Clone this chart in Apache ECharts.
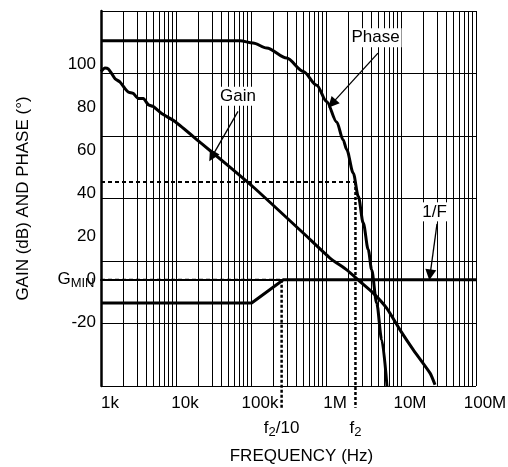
<!DOCTYPE html>
<html>
<head>
<meta charset="utf-8">
<script src="https://cdn.jsdelivr.net/npm/echarts@6/dist/echarts.min.js"></script>
<style>html,body{margin:0;padding:0;background:#fff;}</style>
</head>
<body>
<div id="main" style="width: 508px;height: 467px"></div>
<script type="text/javascript">
    // axis ticks
    var freqTicks = [1e3, 1e4, 1e5, 1e6, 1e7, 1e8];
    var freqLabels = ['1k', '10k', '100k', '1M', '10M', '100M'];
    var yTicks = [-20, 0, 20, 40, 60, 80, 100];
    var minorMult = [2, 3, 4, 5, 6, 7, 8, 9];

    // curves
    var gainFreq = [1000, 1130, 1250, 1390, 1540, 1790, 2090, 2310, 2700, 3140, 3660, 4270, 4980, 6440, 9700, 22000, 50000, 110000, 509000, 1.13e6, 1.89e6, 2.84e6, 4.27e6, 6.44e6, 9.7e6, 1.46e7, 2.44e7, 2.84e7];
    var gainDb = [96.8, 98.5, 98.1, 95.9, 93.5, 92.0, 88.9, 87.3, 86.6, 84.3, 84.3, 81.4, 80.6, 77.3, 73.6, 63.3, 53.0, 42.8, 21.4, 10.1, 4.6, -0.8, -6.2, -13.2, -23.3, -32.6, -43.4, -48.8];

    var phaseFreq = [1000, 71300, 106400, 161800, 299000, 498000, 751600, 1.02e6, 1.39e6, 1.69e6, 1.89e6, 2.31e6, 2.7e6, 3.14e6, 3.66e6, 4.06e6, 4.74e6, 5.53e6, 6.5e6];
    var phaseDeg = [111.2, 111.2, 110.1, 107.8, 103.1, 96.9, 90.5, 82.9, 73.4, 65.1, 60.5, 49.6, 38.7, 26.4, 14.0, 4.7, -10.8, -27.9, -49.4];

    var invFFreq = [1000, 102000, 270000, 1e8];
    var invFDb = [-10.8, -10.8, 0, 0];

    var gMin = 0;
    var f2 = 2.47e6;
    var f2Tenth = 2.56e5;
    var f2Level = 45.5;
    var belowAxis = -59.5;
    var labelRow = -69.3;

    // annotations
    var noteText = ['Phase', 'Gain', '1/F'];
    var notePos = [[4.57e6, 112.6], [67100, 85.3], [2.8e7, 31.6]];
    var arrowFrom = [[4.93e6, 105.4], [67100, 78.3], [3.02e7, 26]];
    var arrowTo = [[1.2e6, 81.9], [30200, 57.3], [2.44e7, 2.3]];

    var font = 'Liberation Sans, Arial, sans-serif';

    function pairs(xs, ys) {
        return xs.map(function (x, i) { return [x, ys[i]]; });
    }

    var minorLines = [];
    freqTicks.slice(0, 5).forEach(function (d) {
        minorMult.forEach(function (m) { minorLines.push({ xAxis: d * m }); });
    });

    var myChart = echarts.init(document.getElementById('main'));

    var option = {
        backgroundColor: '#fff',
        animation: false,
        grid: { left: 101, right: 32, top: 11, bottom: 81, outerBoundsMode: 'none' },
        xAxis: {
            type: 'log',
            logBase: 10,
            min: 1e3,
            max: 1e8,
            axisLine: { show: true, lineStyle: { color: '#000', width: 2 } },
            axisTick: { show: false },
            splitLine: { show: true, lineStyle: { color: '#000', width: 1 } },
            axisLabel: {
                color: '#000', fontSize: 17, fontFamily: font, margin: 9,
                padding: [0, 0, 0, 18],
                formatter: function (v) {
                    return freqLabels[Math.round(Math.log10(v)) - 3];
                }
            },
            name: 'FREQUENCY (Hz)',
            nameLocation: 'middle',
            nameGap: 62,
            nameTextStyle: { color: '#000', fontSize: 17, fontFamily: font, padding: [0, 0, 0, 26] }
        },
        yAxis: [{
            type: 'value',
            min: -49.4,
            max: 125,
            axisLine: { show: true, lineStyle: { color: '#000', width: 2.5 } },
            axisTick: { show: false },
            splitLine: { show: false },
            axisLabel: { customValues: yTicks, color: '#000', fontSize: 17, fontFamily: font, margin: 5 },
            name: 'GAIN (dB) AND PHASE (°)',
            nameLocation: 'middle',
            nameGap: 69,
            nameTextStyle: { color: '#000', fontSize: 17, fontFamily: font }
        }, {
            type: 'value',
            min: 0,
            max: 6,
            interval: 1,
            position: 'left',
            axisLine: { show: false },
            axisTick: { show: false },
            axisLabel: { show: false },
            splitLine: { show: true, lineStyle: { color: '#000', width: 1 } }
        }],
        series: [{
            // minor log grid
            type: 'line',
            data: [],
            silent: true,
            markLine: {
                silent: true,
                symbol: ['none', 'none'],
                label: { show: false },
                lineStyle: { color: '#000', width: 1, type: 'solid' },
                emphasis: { disabled: true },
                data: minorLines
            }
        }, {
            name: 'Gain',
            type: 'line',
            data: pairs(gainFreq, gainDb),
            showSymbol: false,
            smooth: 0.2,
            lineStyle: { color: '#000', width: 3 },
            z: 5
        }, {
            name: 'Phase',
            type: 'line',
            data: pairs(phaseFreq, phaseDeg),
            showSymbol: false,
            smooth: 0.3,
            smoothMonotone: 'x',
            lineStyle: { color: '#000', width: 3 },
            z: 5
        }, {
            name: '1/F',
            type: 'line',
            data: pairs(invFFreq, invFDb),
            showSymbol: false,
            lineStyle: { color: '#000', width: 3 },
            z: 5
        }, {
            // G_MIN level
            type: 'line',
            data: [[1e3, gMin], [invFFreq[2], gMin]],
            showSymbol: false,
            lineStyle: { color: '#000', width: 2, type: [4, 3] },
            z: 4
        }, {
            // f2 level
            type: 'line',
            data: [[1e3, f2Level], [f2, f2Level]],
            showSymbol: false,
            lineStyle: { color: '#000', width: 2, type: [4, 3] },
            z: 4
        }, {
            type: 'line',
            clip: false,
            data: [[f2, f2Level], [f2, belowAxis]],
            showSymbol: false,
            lineStyle: { color: '#000', width: 2.5, type: [3, 2] },
            z: 4
        }, {
            type: 'line',
            clip: false,
            data: [[f2Tenth, gMin], [f2Tenth, belowAxis]],
            showSymbol: false,
            lineStyle: { color: '#000', width: 2.5, type: [3, 2] },
            z: 4
        }, {
            // arrows
            type: 'line',
            data: [],
            silent: true,
            markLine: {
                silent: true,
                symbol: ['none', 'triangle'],
                symbolSize: 11,
                label: { show: false },
                itemStyle: { color: '#000' },
                lineStyle: { color: '#000', width: 1.3, type: 'solid' },
                emphasis: { disabled: true },
                data: arrowFrom.map(function (p, i) {
                    return [{ coord: p }, { coord: arrowTo[i] }];
                })
            },
            z: 6
        }, {
            // curve names
            type: 'scatter',
            symbolSize: 1,
            itemStyle: { color: 'transparent', opacity: 1 },
            data: notePos.map(function (p, i) { return [p[0], p[1], noteText[i]]; }),
            label: {
                show: true,
                position: 'inside',
                opacity: 1,
                formatter: function (p) { return p.value[2]; },
                color: '#000', fontSize: 17, fontFamily: font,
                backgroundColor: '#fff', padding: [1, 2]
            },
            z: 7
        }, {
            // G_MIN, f2/10, f2
            type: 'scatter',
            clip: false,
            symbolSize: 1,
            itemStyle: { color: 'transparent', opacity: 1 },
            data: [
                { value: [1e3, gMin], label: { position: 'left', distance: 6, formatter: '{g|G}{s|MIN}' } },
                { value: [f2Tenth, labelRow], label: { position: 'inside', formatter: '{g|f}{s|2}{g|/10}' } },
                { value: [f2, labelRow], label: { position: 'inside', formatter: '{g|f}{s|2}' } }
            ],
            label: {
                show: true,
                opacity: 1,
                color: '#000',
                rich: {
                    g: { fontSize: 17, fontFamily: font, color: '#000' },
                    s: { fontSize: 13, fontFamily: font, color: '#000', padding: [8, 0, 0, 0] }
                }
            },
            z: 7
        }]
    };

    myChart.setOption(option);
</script>
</body>
</html>
